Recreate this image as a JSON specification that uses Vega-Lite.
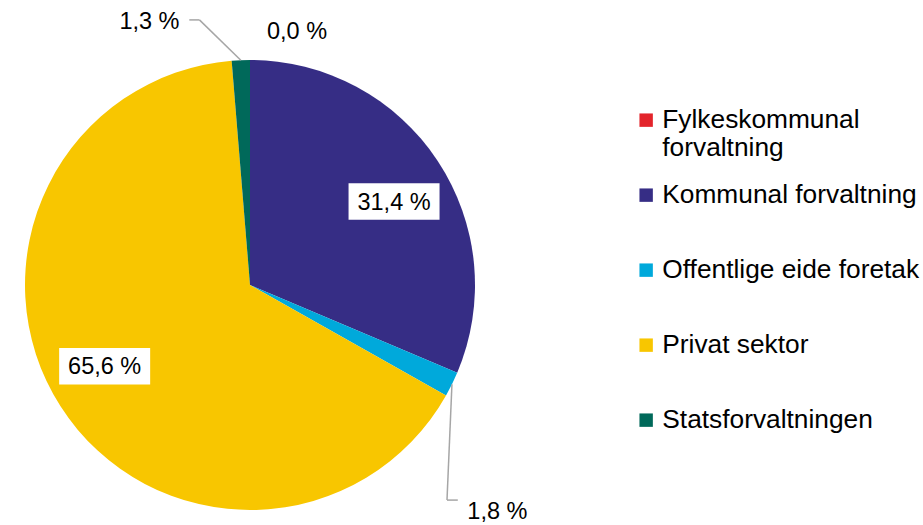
{
  "$schema": "https://vega.github.io/schema/vega-lite/v6.json",
  "width": 450,
  "height": 450,
  "autosize": {"type": "none"},
  "padding": {"left": 25, "top": 60, "right": 448, "bottom": 15},
  "background": "white",
  "config": {"view": {"stroke": null}, "font": "Liberation Sans"},
  "data": {
    "values": [
      {"sektor": "Fylkeskommunal forvaltning", "andel": 0.0, "tekst": "0,0 %"},
      {"sektor": "Kommunal forvaltning", "andel": 31.4, "tekst": "31,4 %"},
      {"sektor": "Offentlige eide foretak", "andel": 1.8, "tekst": "1,8 %"},
      {"sektor": "Privat sektor", "andel": 65.6, "tekst": "65,6 %"},
      {"sektor": "Statsforvaltningen", "andel": 1.3, "tekst": "1,3 %"}
    ]
  },
  "transform": [
    {"window": [{"op": "sum", "field": "andel", "as": "cum"}], "frame": [null, 0]},
    {"joinaggregate": [{"op": "sum", "field": "andel", "as": "tot"}]},
    {"calculate": "2*PI*(datum.cum - datum.andel/2)/datum.tot", "as": "mid"},
    {"calculate": "sin(datum.mid)", "as": "ex"},
    {"calculate": "cos(datum.mid)", "as": "ey"},
    {"calculate": "0.74*sin(datum.mid+0.06)", "as": "ix"},
    {"calculate": "0.74*cos(datum.mid+0.06)", "as": "iy"},
    {"calculate": "datum.sektor == 'Statsforvaltningen' ? datum.ex - 0.406 : datum.sektor == 'Fylkeskommunal forvaltning' ? datum.ex + 0.209 : datum.ex + 0.202", "as": "ox"},
    {"calculate": "datum.sektor == 'Statsforvaltningen' ? datum.ey + 0.17 : datum.sektor == 'Fylkeskommunal forvaltning' ? datum.ey + 0.124 : datum.ey - 0.568", "as": "oy"},
    {"calculate": "datum.sektor == 'Statsforvaltningen' ? datum.ex - 0.184 : datum.ex - 0.022", "as": "kx"},
    {"calculate": "datum.sektor == 'Statsforvaltningen' ? datum.ey + 0.179 : datum.ey - 0.515", "as": "ky"},
    {"calculate": "datum.sektor == 'Statsforvaltningen' ? datum.kx - 0.045 : datum.kx + 0.048", "as": "tx"}
  ],
  "encoding": {},
  "layer": [
    {
      "mark": {"type": "arc"},
      "encoding": {
        "theta": {"field": "andel", "type": "quantitative", "stack": true},
        "color": {
          "field": "sektor",
          "type": "nominal",
          "scale": {
            "domain": ["Fylkeskommunal forvaltning", "Kommunal forvaltning", "Offentlige eide foretak", "Privat sektor", "Statsforvaltningen"],
            "range": ["#E3242B", "#362D85", "#00A9DB", "#F8C600", "#00695A"]
          },
          "legend": {
            "title": null,
            "orient": "none",
            "legendX": 608,
            "legendY": 47,
            "padding": 0,
            "symbolType": "square",
            "symbolSize": 180,
            "symbolStrokeWidth": 0,
            "labelFont": "Liberation Sans",
            "labelFontSize": 26.3,
            "labelColor": "#000000",
            "labelLimit": 400,
            "labelOffset": 3,
            "gridAlign": "all",
            "rowPadding": 20,
            "labelExpr": "datum.label == 'Fylkeskommunal forvaltning' ? ['Fylkeskommunal', 'forvaltning'] : datum.label"
          }
        }
      }
    },
    {
      "transform": [{"filter": "datum.andel > 20"}],
      "mark": {"type": "point", "shape": "M-1,-0.4H1V0.4H-1Z", "size": 8281, "filled": true, "color": "white", "opacity": 1},
      "encoding": {
        "x": {"field": "ix", "type": "quantitative", "scale": {"domain": [-1, 1], "nice": false, "zero": false}, "axis": null},
        "y": {"field": "iy", "type": "quantitative", "scale": {"domain": [-1, 1], "nice": false, "zero": false}, "axis": null}
      }
    },
    {
      "transform": [{"filter": "datum.andel > 20"}],
      "mark": {"type": "text", "fontSize": 23.5, "font": "Liberation Sans", "color": "#000000", "align": "center", "baseline": "middle", "dy": 1},
      "encoding": {
        "x": {"field": "ix", "type": "quantitative"},
        "y": {"field": "iy", "type": "quantitative"},
        "text": {"field": "tekst"}
      }
    },
    {
      "transform": [{"filter": "datum.andel < 20 && datum.sektor != 'Fylkeskommunal forvaltning'"}],
      "mark": {"type": "rule", "color": "#A6A6A6", "strokeWidth": 1.5},
      "encoding": {
        "x": {"field": "ex", "type": "quantitative"},
        "y": {"field": "ey", "type": "quantitative"},
        "x2": {"field": "kx"},
        "y2": {"field": "ky"}
      }
    },
    {
      "transform": [{"filter": "datum.andel < 20 && datum.sektor != 'Fylkeskommunal forvaltning'"}],
      "mark": {"type": "rule", "color": "#A6A6A6", "strokeWidth": 1.5},
      "encoding": {
        "x": {"field": "kx", "type": "quantitative"},
        "y": {"field": "ky", "type": "quantitative"},
        "x2": {"field": "tx"},
        "y2": {"field": "ky"}
      }
    },
    {
      "transform": [{"filter": "datum.andel < 20"}],
      "mark": {"type": "text", "fontSize": 23.5, "font": "Liberation Sans", "color": "#000000", "align": "center", "baseline": "middle"},
      "encoding": {
        "x": {"field": "ox", "type": "quantitative"},
        "y": {"field": "oy", "type": "quantitative"},
        "text": {"field": "tekst"}
      }
    }
  ]
}
